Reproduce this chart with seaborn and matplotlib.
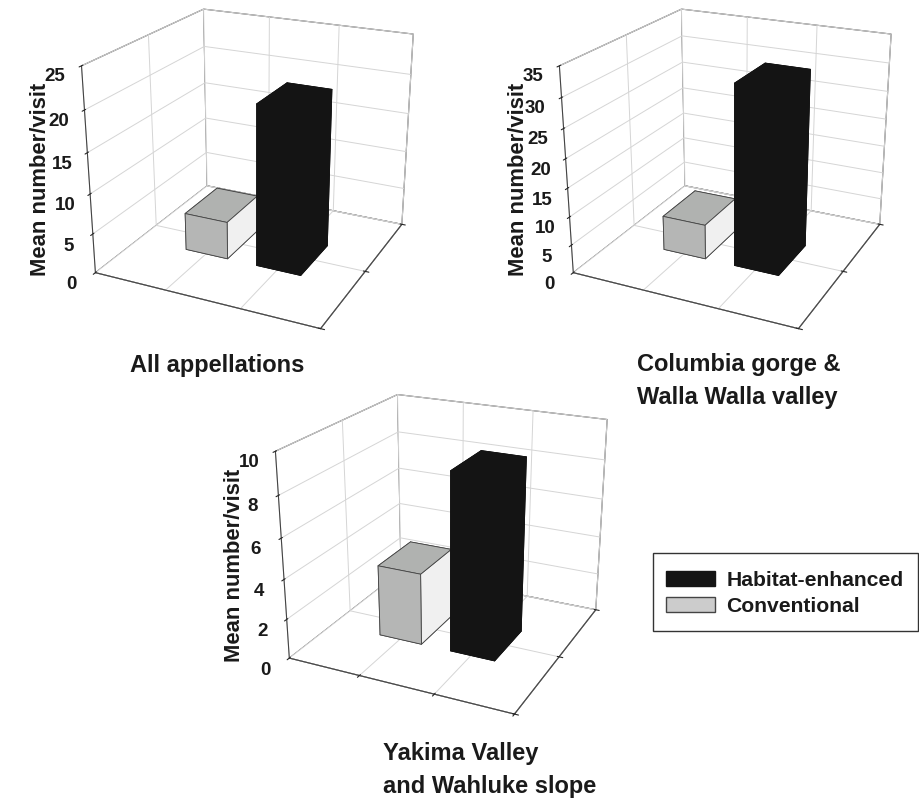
"""Mean number/visit by appellation, 3D bars for the two vineyard types."""

import matplotlib
matplotlib.use("Agg")
import matplotlib.pyplot as plt
from matplotlib.patches import Patch, Rectangle
import seaborn as sns

sns.set_style("white")
plt.rcParams["font.family"] = ["Liberation Sans", "DejaVu Sans"]
plt.rcParams["font.weight"] = "bold"

TREATMENTS = ["Conventional", "Habitat-enhanced"]
ALL_MEANS = [4.8, 20.1]
GORGE_MEANS = [6.2, 31.5]
YAKIMA_MEANS = [3.65, 8.9]
ALL_TICKS = [0, 5, 10, 15, 20, 25]
GORGE_TICKS = [0, 5, 10, 15, 20, 25, 30, 35]
YAKIMA_TICKS = [0, 2, 4, 6, 8, 10]

# faces in bar3d order: bottom, top, front, back, left, right
FACES = {"Conventional": ["#b0b2b0", "#b0b2b0", "#b5b6b5", "#f0f0f0", "#f0f0f0", "#f0f0f0"],
         "Habitat-enhanced": ["#141414"] * 6}
EDGES = {"Conventional": "#444444", "Habitat-enhanced": "#141414"}
BAR_START = [0.71, 1.72]


def bars3d(fig, rect, means, ticks, x_ticks=False):
    ax = fig.add_axes(rect, projection="3d")
    ax.set_proj_type("persp", focal_length=0.5)
    ax.view_init(elev=22, azim=-64.5)
    ax.set_box_aspect((0.90, 0.88, 0.80), zoom=1.03)
    ax.patch.set_alpha(0)
    ax.set_xlim(0, 3)
    ax.set_ylim(0, 2)
    ax.set_zlim(0, ticks[-1])
    for a in (ax.xaxis, ax.yaxis, ax.zaxis):
        a.set_pane_color((1, 1, 1, 1))
        a.pane.set_edgecolor("#444444")
        a.pane.set_linewidth(0.8)
        a._axinfo["grid"].update(color="#d5d5d5", linewidth=0.7)
        a.line.set_color("#444444")
        a.line.set_linewidth(0.8)
    if not x_ticks:
        ax.xaxis._axinfo["tick"].update(inward_factor=0, outward_factor=0)
    ax.set_xticks([1, 2, 3])
    ax.set_yticks([0, 1, 2])
    ax.set_xticklabels([])
    ax.set_yticklabels([])
    ax.set_zticks(ticks)
    ax.zaxis.set_ticks_position("lower")
    ax.zaxis.set_label_position("lower")
    ax.set_zticklabels([str(t) for t in ticks], fontsize=13.5, fontweight="bold", color="#1a1a1a")
    ax.tick_params(axis="z", pad=2)
    ax.zaxis.set_rotate_label(False)
    ax.set_zlabel("Mean number/visit", fontsize=15.8, fontweight="bold", color="#1a1a1a",
                  labelpad=-2, rotation=90)
    for i, (name, value) in enumerate(zip(TREATMENTS, means)):
        ax.bar3d(BAR_START[i], 0.70, 0, 0.6, 0.6, value, color=FACES[name],
                 edgecolor=EDGES[name], linewidth=0.6, shade=False)
    return ax


fig = plt.figure(figsize=(9.19, 7.98), dpi=100)
bars3d(fig, [0.043, 0.568, 0.46, 0.47], ALL_MEANS, ALL_TICKS)
bars3d(fig, [0.563, 0.568, 0.46, 0.47], GORGE_MEANS, GORGE_TICKS)
bars3d(fig, [0.254, 0.085, 0.46, 0.47], YAKIMA_MEANS, YAKIMA_TICKS, x_ticks=True)

fig.text(217 / 919, 1 - 365 / 798, "All appellations", ha="center", va="center",
         fontsize=17, color="#1a1a1a")
fig.text(637 / 919, 1 - 381 / 798, "Columbia gorge &\nWalla Walla valley", ha="left", va="center",
         fontsize=17, linespacing=1.55, color="#1a1a1a")
fig.text(383 / 919, 1 - 770 / 798, "Yakima Valley\nand Wahluke slope", ha="left", va="center",
         fontsize=17, linespacing=1.55, color="#1a1a1a")

fig.add_artist(Rectangle((653 / 919, 1 - 631 / 798), 265 / 919, 78 / 798, transform=fig.transFigure,
                         facecolor="white", edgecolor="#333333", linewidth=1))
handles = [Patch(facecolor="#141414", edgecolor="#141414"),
           Patch(facecolor="#cccccc", edgecolor="#444444")]
fig.legend(handles, ["Habitat-enhanced", "Conventional"], loc="center left",
           bbox_to_anchor=(666 / 919, 1 - 593.5 / 798), borderaxespad=0, borderpad=0, fontsize=15.2,
           frameon=False, labelspacing=0.35, labelcolor="#1a1a1a",
           handlelength=2.3, handleheight=0.7, handletextpad=0.55)
fig.savefig("out.png", dpi=100)
